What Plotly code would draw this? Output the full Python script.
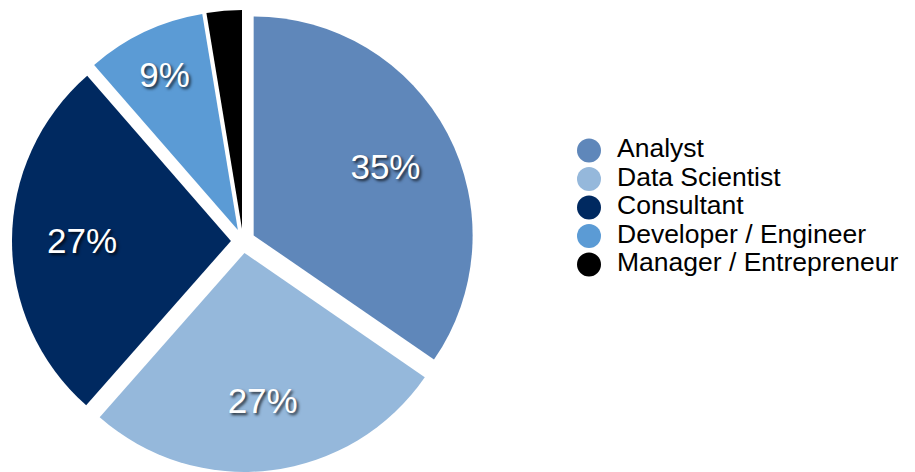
import plotly.graph_objects as go

roles = ["Analyst", "Data Scientist", "Consultant", "Developer / Engineer", "Manager / Entrepreneur"]
shares = [34.6, 26.9, 27.1, 8.8, 2.6]
colors = ["#5f87ba", "#95b8db", "#002960", "#5b9bd5", "#000000"]
label_templates = ["%{percent:.0%}", "%{percent:.0%}", "%{percent:.0%}", "%{percent:.0%}", ""]

W, H = 915, 472
pie_domain = dict(x=[12 / W, 474 / W], y=[0, 1 - 10 / H])

fig = go.Figure()

# coloured slices
fig.add_trace(go.Pie(
    labels=roles,
    values=shares,
    sort=False,
    direction="clockwise",
    rotation=0,
    pull=0.055,
    marker=dict(colors=colors, line=dict(width=0)),
    textinfo="none",
    domain=pie_domain,
    showlegend=False,
    hoverinfo="label+percent",
))

# transparent ring carrying the percentage labels (places them further out)
fig.add_trace(go.Pie(
    labels=roles,
    values=shares,
    sort=False,
    direction="clockwise",
    rotation=0,
    pull=0.055,
    hole=0.36,
    marker=dict(colors=["rgba(0,0,0,0)"] * len(roles), line=dict(width=0)),
    texttemplate=label_templates,
    textposition="inside",
    insidetextorientation="horizontal",
    textfont=dict(family="Arial, Liberation Sans, sans-serif", size=35, color="white",
                  shadow="2px 2px 3px rgba(0,0,0,0.75)"),
    domain=pie_domain,
    showlegend=False,
    hoverinfo="skip",
))

# custom legend drawn with scatter on hidden axes
legend_x = [0] * len(roles)
text_x = [1] * len(roles)
fig.add_trace(go.Scatter(
    x=legend_x, y=roles, mode="markers",
    marker=dict(size=24, color=colors, line=dict(width=0)),
    showlegend=False, hoverinfo="skip", cliponaxis=False,
))
fig.add_trace(go.Scatter(
    x=text_x, y=roles, mode="text", text=roles, textposition="middle right",
    textfont=dict(family="Arial, Liberation Sans, sans-serif", size=26.5, color="black"),
    showlegend=False, hoverinfo="skip", cliponaxis=False,
))

fig.update_layout(
    width=W, height=H,
    margin=dict(l=0, r=0, t=0, b=0),
    paper_bgcolor="white",
    plot_bgcolor="rgba(0,0,0,0)",
    xaxis=dict(domain=[561 / W, 897 / W], range=[-1, 11], visible=False, fixedrange=True),
    yaxis=dict(domain=[1 - 278.75 / H, 1 - 136.25 / H], type="category",
               categoryorder="array", categoryarray=roles[::-1],
               range=[-0.5, 4.5], visible=False, fixedrange=True),
)

fig.write_html("out.html", config={"displayModeBar": False},
               post_script="document.body.style.margin='0';")
